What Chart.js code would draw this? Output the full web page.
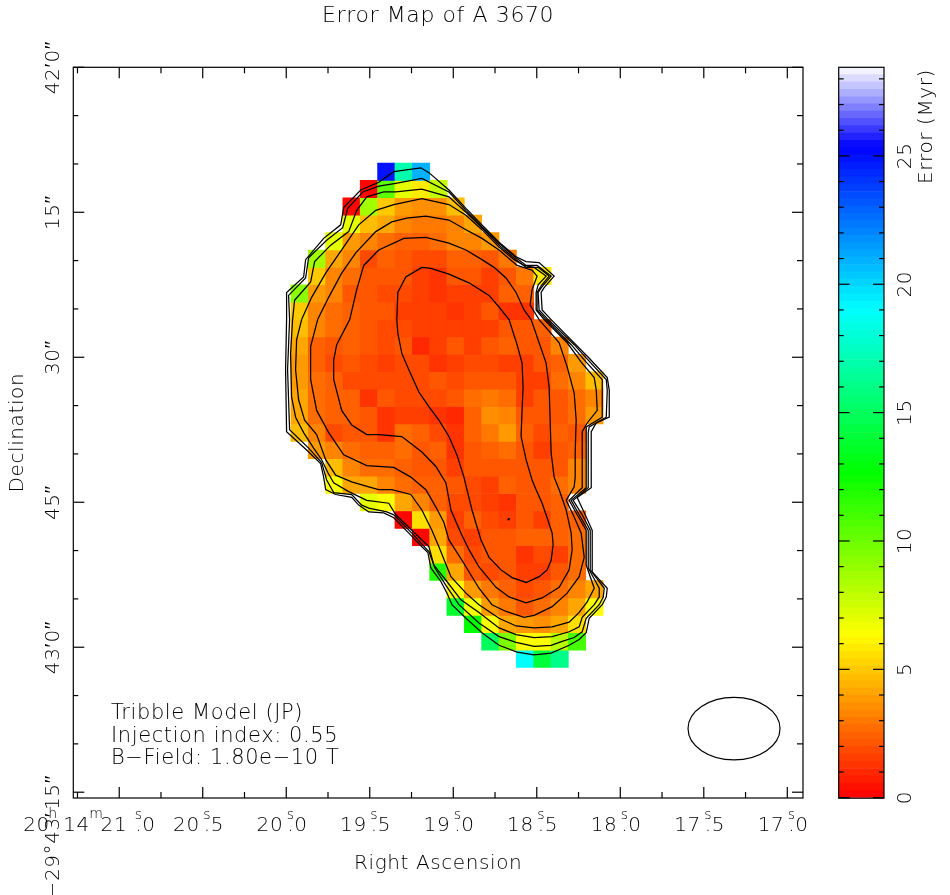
<!DOCTYPE html>
<html lang="en">
<head>
<meta charset="UTF-8">
<title>Error Map of A 3670</title>
<script src="https://cdn.jsdelivr.net/npm/chart.js@4/dist/chart.umd.min.js"></script>
<style>
    html, body { margin: 0; padding: 0; background: #fff; }
    canvas { position: absolute; top: 0; display: block; }
    #map { left: 0; }
    #bar { left: 800px; }
</style>
</head>
<body>
<canvas id="map" width="950" height="895"></canvas>
<canvas id="bar" width="150" height="895"></canvas>
<script>
// map pixel centres
const cellRa = [19.920, 19.816, 19.712, 19.609, 19.505, 19.401, 19.297, 19.193, 19.089, 18.986, 18.882, 18.778, 18.674, 18.570, 18.466, 18.363, 18.259, 18.155];
const cellDec = [10.8, 12.6, 14.4, 16.2, 18.0, 19.8, 21.6, 23.4, 25.2, 27.0, 28.8, 30.6, 32.4, 34.2, 36.0, 37.8, 39.6, 41.4, 43.2, 45.0, 46.8, 48.6, 50.4, 52.2, 54.0, 55.8, 57.6, 59.4, 61.2];

// error in Myr, one row per declination
const _ = null;
const errorRows = [
    [_,_,_,_,_,25,16.8,21,_,_,_,_,_,_,_,_,_,_],
    [_,_,_,_,0.1,10.3,6.9,5.8,7.7,_,_,_,_,_,_,_,_,_],
    [_,_,_,0.1,8.8,5,3.8,3.6,3.6,4.8,_,_,_,_,_,_,_,_],
    [_,_,_,7,4.6,4,3.2,3,3,3.4,4,_,_,_,_,_,_,_],
    [_,_,7,3.8,3.4,2.8,2.5,2.5,2.7,3.2,3.2,3.9,_,_,_,_,_,_],
    [_,8.8,4.2,3.4,1.9,2.3,2,1.9,1.9,2.5,2.5,2.1,3,_,_,_,_,_],
    [_,5,3.4,2.6,2.1,2.1,2,1.6,1.4,2.1,2.1,1.5,2.1,3,5.9,_,_,_],
    [9.2,3.9,3.2,2.1,2,1.9,1.9,1.6,1.2,1.7,1.7,1.6,2.4,2.4,_,_,_,_],
    [5.1,3.4,2.6,2.4,2.1,2,1.7,1.6,1.6,1.3,1.5,2,1.4,1.4,_,_,_,_],
    [4.6,3.2,2.8,2.5,2.1,1.9,1.9,1.6,1.7,1.7,1.6,1.7,2,2,2.5,_,_,_],
    [4.2,2.5,2.1,2.4,2,1.9,2,1.1,1.7,2,1.6,2,2.5,2.1,2.1,3.2,_,_],
    [3.8,2.4,1.8,2,1.9,1.7,1.9,1.9,1.2,1.6,1.8,1.8,1.5,1.5,2.1,2.4,3.8,_],
    [3.8,2.6,2.4,1.8,1.8,1.8,1.8,1.9,2,1.9,2,2,2,1.7,1.5,2.6,3.4,4.8],
    [4,2.6,2.4,2.4,1.3,2.2,1.9,1.9,1.9,2.1,2.8,3,2.6,1.5,2.1,2,2.6,3.4],
    [4.2,2.6,2.5,2.4,2.1,1.2,1.6,1.6,1.2,1.1,2.5,3.5,3.4,2.1,2,2.1,2.6,3.8],
    [4.7,3.2,1.9,2.1,2.1,1.2,2.6,2.4,1.9,1.2,2.4,3,3.8,2.5,1.9,2.4,2.1,_],
    [_,3.8,3.2,2.6,2.4,2.4,2.6,2,2.4,1.4,2.1,2.5,2.8,2.1,1.7,2,2.4,_],
    [_,_,4.6,3.2,2.6,2.6,2.4,2.1,2.1,1.7,2,2.1,2.1,2.1,2,2.1,3.4,_],
    [_,_,6.3,4.2,4.2,3.4,2.6,2.5,2.4,2.1,1.9,1.6,2.4,2.1,2.1,2.8,3.4,_],
    [_,_,_,_,7,6.3,4.2,3.4,2.5,1.9,1.9,1.6,1.2,2.2,2.2,2.5,_,_],
    [_,_,_,_,_,_,0.2,5.6,3.8,1.7,2.4,1.8,1.6,2.1,1.7,2.5,2.5,_],
    [_,_,_,_,_,_,_,0.1,4.2,1.9,1.5,2,2,2.4,2.4,2.4,2.8,_],
    [_,_,_,_,_,_,_,_,5.6,2.6,1.9,2,2.1,1.2,1.8,1.6,2.8,_],
    [_,_,_,_,_,_,_,_,11.9,4.2,2.1,1.9,2,1.5,1.6,2.1,2.8,_],
    [_,_,_,_,_,_,_,_,_,6,3.8,3,2.5,1.8,2.1,2.8,3.4,4.2],
    [_,_,_,_,_,_,_,_,_,13.7,6.7,3.8,3,2.1,2.8,3.4,4.2,6.3],
    [_,_,_,_,_,_,_,_,_,_,12.7,6.3,4.2,3.8,3.6,4.2,5.6,_],
    [_,_,_,_,_,_,_,_,_,_,_,15,9.6,6.4,6.4,8,11,_],
    [_,_,_,_,_,_,_,_,_,_,_,_,_,19,14.2,16,_,_]
];

// contour vertices as [RA seconds, arcsec south of 42']
const contour1 = [[19.998,26.1],[19.998,23.3],[19.896,21.7],[19.884,19.9],[19.776,17.7],[19.674,16.3],[19.656,14.5],[19.554,12.7],[19.446,11.9],[19.356,10.8],[19.194,10.4],[19.146,10.9],[19.026,12.7],[18.924,14.6],[18.828,16.3],[18.726,18.1],[18.624,19.6],[18.564,20.1],[18.486,20.2],[18.396,21.6],[18.456,22.8],[18.474,23.3],[18.468,25.1],[18.414,26.1],[18.306,28.0],[18.186,30.1],[18.078,32.1],[18.066,33.4],[18.066,36.2],[18.144,36.8],[18.174,37.7],[18.174,39.9],[18.174,43.5],[18.258,44.5],[18.21,46.3],[18.168,47.9],[18.168,52.2],[18.078,53.9],[18.084,54.8],[18.108,55.6],[18.186,57.0],[18.204,58.5],[18.246,59.2],[18.306,59.8],[18.414,60.6],[18.516,60.8],[18.618,60.5],[18.726,59.8],[18.828,58.5],[18.924,57.0],[19.008,55.6],[19.038,54.4],[19.074,53.2],[19.134,51.8],[19.152,50.2],[19.188,49.6],[19.266,48.2],[19.356,46.6],[19.416,46.1],[19.506,46.0],[19.566,45.3],[19.608,44.5],[19.704,44.2],[19.764,43.7],[19.776,42.4],[19.794,41.0],[19.878,39.6],[19.998,37.7],[20.004,31.3]];
const contour2 = [[19.98,26.1],[19.986,23.6],[19.884,21.8],[19.866,19.7],[19.758,17.9],[19.662,16.6],[19.632,14.6],[19.542,12.9],[19.446,12.3],[19.344,12.0],[19.188,11.5],[19.026,12.9],[18.924,14.8],[18.828,16.5],[18.726,18.2],[18.624,19.7],[18.564,20.5],[18.498,20.5],[18.414,21.6],[18.468,22.7],[18.492,23.3],[18.486,25.1],[18.432,26.1],[18.276,28.7],[18.192,30.3],[18.084,32.3],[18.078,33.4],[18.084,36.2],[18.186,37.2],[18.192,37.8],[18.192,43.5],[18.282,44.8],[18.228,46.3],[18.18,47.9],[18.18,52.0],[18.096,53.9],[18.102,54.8],[18.126,55.6],[18.204,57.0],[18.228,58.4],[18.276,59.0],[18.348,59.4],[18.414,59.8],[18.516,59.9],[18.624,59.5],[18.726,58.9],[18.846,57.5],[18.966,55.6],[19.044,53.6],[19.11,51.8],[19.146,50.1],[19.248,48.2],[19.356,46.3],[19.398,46.0],[19.506,45.6],[19.548,45.3],[19.608,44.2],[19.716,44.0],[19.758,42.7],[19.788,40.9],[19.866,39.4],[19.98,37.5],[19.992,31.3]];
const contour3 = [[19.962,26.1],[19.95,24.1],[19.854,22.2],[19.83,20.1],[19.734,18.4],[19.626,17.0],[19.578,14.8],[19.518,13.4],[19.416,12.9],[19.344,12.9],[19.188,12.6],[19.026,13.4],[18.924,15.0],[18.828,16.6],[18.726,18.4],[18.624,19.9],[18.564,20.7],[18.492,20.7],[18.426,21.6],[18.474,22.6],[18.498,23.3],[18.498,25.1],[18.444,26.1],[18.294,28.7],[18.204,30.5],[18.108,32.3],[18.108,36.2],[18.204,37.2],[18.204,37.8],[18.204,43.5],[18.294,44.8],[18.246,46.3],[18.192,47.9],[18.192,51.8],[18.126,53.9],[18.126,54.8],[18.156,55.6],[18.228,56.9],[18.246,57.9],[18.306,58.4],[18.408,58.9],[18.516,59.0],[18.624,58.7],[18.726,58.0],[18.846,56.4],[18.954,55.1],[19.038,53.2],[19.116,51.5],[19.146,49.6],[19.248,47.9],[19.344,46.3],[19.386,45.1],[19.518,44.8],[19.626,43.9],[19.716,43.0],[19.752,41.9],[19.788,40.6],[19.836,39.4],[19.896,37.8],[19.944,36.2],[19.968,34.1],[19.974,29.6]];
const contour4 = [[19.908,26.1],[19.848,23.8],[19.764,21.3],[19.668,18.9],[19.566,16.3],[19.464,14.8],[19.356,14.2],[19.188,13.6],[19.026,14.2],[18.924,15.3],[18.828,16.8],[18.726,18.6],[18.636,19.9],[18.576,20.5],[18.516,20.7],[18.444,21.6],[18.492,22.5],[18.504,23.3],[18.504,25.1],[18.456,26.1],[18.318,28.5],[18.234,30.5],[18.156,32.1],[18.144,33.4],[18.138,35.5],[18.198,36.8],[18.228,37.7],[18.228,39.9],[18.228,43.5],[18.306,44.8],[18.258,46.3],[18.204,47.9],[18.204,51.5],[18.156,53.9],[18.198,55.3],[18.246,56.4],[18.306,57.4],[18.408,57.9],[18.516,58.0],[18.624,57.8],[18.726,57.0],[18.846,55.6],[18.924,54.4],[19.014,52.7],[19.086,49.6],[19.128,47.9],[19.188,45.8],[19.254,44.2],[19.368,43.7],[19.446,43.7],[19.506,43.4],[19.608,42.9],[19.704,42.2],[19.764,40.6],[19.818,38.0],[19.89,36.5],[19.926,34.4],[19.944,31.3],[19.938,28.2]];
const contour5 = [[19.812,26.1],[19.746,23.8],[19.668,21.3],[19.584,19.2],[19.464,17.0],[19.368,16.0],[19.278,15.6],[19.164,15.4],[19.026,15.8],[18.924,16.8],[18.828,17.7],[18.726,18.9],[18.618,20.5],[18.528,21.0],[18.498,21.6],[18.528,23.0],[18.54,24.6],[18.486,26.1],[18.366,28.5],[18.318,31.0],[18.276,33.7],[18.264,36.5],[18.27,39.9],[18.27,42.4],[18.276,43.4],[18.324,44.8],[18.282,46.3],[18.234,48.2],[18.216,50.7],[18.246,52.7],[18.318,54.4],[18.408,55.8],[18.516,56.7],[18.576,56.9],[18.684,56.3],[18.768,55.6],[18.846,53.9],[18.948,51.0],[19.026,48.9],[19.056,47.1],[19.104,45.5],[19.164,43.7],[19.254,42.4],[19.356,41.4],[19.518,41.2],[19.656,40.1],[19.746,37.8],[19.818,35.5],[19.854,32.3],[19.854,28.9]];
const contour6 = [[19.62,26.1],[19.578,23.0],[19.536,20.5],[19.446,18.9],[19.296,17.7],[19.164,17.6],[19.026,18.2],[18.924,18.9],[18.828,19.9],[18.756,20.7],[18.684,21.8],[18.624,23.3],[18.576,25.1],[18.534,26.1],[18.486,28.5],[18.444,30.6],[18.426,33.1],[18.42,36.5],[18.414,39.9],[18.396,42.4],[18.366,43.7],[18.324,45.8],[18.294,48.2],[18.288,49.9],[18.306,52.0],[18.366,53.8],[18.468,54.9],[18.564,55.4],[18.666,54.8],[18.744,53.8],[18.846,51.7],[18.906,49.9],[18.954,48.2],[19.014,45.8],[19.044,43.0],[19.104,41.3],[19.188,39.8],[19.308,38.2],[19.446,38.0],[19.518,38.0],[19.608,37.0],[19.668,35.5],[19.716,32.3],[19.716,30.3],[19.698,28.7],[19.638,26.7]];
const contour7 = [[19.188,20.7],[19.134,20.8],[19.026,21.4],[18.906,22.3],[18.786,23.6],[18.726,24.8],[18.666,26.1],[18.618,28.7],[18.588,30.6],[18.582,33.1],[18.588,35.5],[18.594,38.2],[18.564,40.6],[18.528,42.7],[18.504,43.7],[18.468,45.1],[18.438,46.6],[18.408,48.2],[18.402,49.4],[18.414,51.0],[18.438,52.0],[18.486,52.7],[18.564,53.3],[18.648,52.8],[18.714,52.0],[18.786,50.7],[18.834,48.9],[18.888,45.8],[18.936,42.4],[18.978,40.1],[19.026,38.2],[19.086,36.5],[19.146,35.1],[19.206,33.6],[19.266,31.3],[19.308,29.6],[19.332,27.5],[19.338,26.1],[19.332,23.3],[19.284,21.7]];
const contour8 = [[18.672,46.7],[18.666,46.7],[18.666,46.8],[18.672,46.8]];
const contours = [contour1, contour2, contour3, contour4, contour5, contour6, contour7, contour8];

// axes
const raMin = 16.906, raMax = 21.275, decMin = 0, decMax = 75.6;
const xTickValues = [21, 20.5, 20, 19.5, 19, 18.5, 18, 17.5, 17];
const xMinorValues = [21.25, 20.75, 20.25, 19.75, 19.25, 18.75, 18.25, 17.75, 17.25];
const xTickLabels = ['21.0', '20.5', '20.0', '19.5', '19.0', '18.5', '18.0', '17.5', '17.0'];
const yTickValues = [0, 15, 30, 45, 60, 75];
const yMinorValues = [5, 10, 20, 25, 35, 40, 50, 55, 65, 70];
const yTickLabels = ['42\u20320\u2033', '15\u2033', '30\u2033', '45\u2033', '43\u20320\u2033', '15\u2033'];
const barMajorValues = [0, 5, 10, 15, 20, 25];
const barMinorValues = [1, 2, 3, 4, 6, 7, 8, 9, 11, 12, 13, 14, 16, 17, 18, 19, 21, 22, 23, 24, 26, 27, 28];
const barMax = 28.45;

// colour table: red, yellow, green, cyan, blue, white
const colorStops = [0, 6.33, 12.67, 19, 25.33, 28.45];
const colorR = [255, 255, 0, 0, 0, 255];
const colorG = [0, 255, 255, 255, 0, 255];
const colorB = [0, 0, 0, 255, 255, 255];
const colorLevels = 100;

const annotationLines = ['Tribble Model (JP)', 'Injection index: 0.55', 'B\u2212Field: 1.80e\u221210 T'];
const beamRa = 17.319, beamDec = 68.42, beamHalfRa = 0.2754, beamHalfDec = 3.24;

const FONT_FAMILY = '"DejaVu Sans"';
const FONT_WEIGHT = 200;
const SPACING = '0.6px';
const textFont = `${FONT_WEIGHT} 20px ${FONT_FAMILY}`;
const noteFont = `${FONT_WEIGHT} 21px ${FONT_FAMILY}`;
const superFont = `${FONT_WEIGHT} 14px ${FONT_FAMILY}`;
const chartFont = { family: FONT_FAMILY, size: 20, weight: FONT_WEIGHT };

function errorColor(v) {
    const level = Math.min(colorLevels - 1, Math.floor(v / barMax * colorLevels));
    const t = (level + 0.5) / colorLevels * barMax;
    let i = 0;
    while (i < colorStops.length - 2 && t > colorStops[i + 1]) i++;
    const f = (t - colorStops[i]) / (colorStops[i + 1] - colorStops[i]);
    const mix = c => Math.round(c[i] + (c[i + 1] - c[i]) * f);
    return `rgb(${mix(colorR)},${mix(colorG)},${mix(colorB)})`;
}

// each map row is a set of floating bars, one per pixel
const cellDatasets = errorRows.map((row, r) => {
    const cols = cellRa.map((ra, c) => c).filter(c => row[c] !== null);
    return {
        type: 'bar',
        order: 2,
        grouped: false,
        barThickness: 17.4,
        borderWidth: 0,
        data: cols.map(c => ({ x: cellRa[c], y: [cellDec[r] - 0.9, cellDec[r] + 0.9] })),
        backgroundColor: cols.map(c => errorColor(row[c]))
    };
});

const contourDatasets = contours.map(points => ({
    type: 'line',
    order: 1,
    data: points.concat([points[0]]).map(p => ({ x: p[0], y: p[1] })),
    borderColor: '#000',
    borderWidth: 1.25,
    pointRadius: 0,
    tension: 0,
    fill: false
}));

function setTicks(majors, minors) {
    return scale => {
        scale.ticks = majors.concat(minors).map(value => ({ value }));
    };
}

function line(ctx, x1, y1, x2, y2) {
    ctx.beginPath();
    ctx.moveTo(x1, y1);
    ctx.lineTo(x2, y2);
    ctx.stroke();
}

function verticalText(ctx, text, x, y, align) {
    ctx.save();
    ctx.translate(x, y);
    ctx.rotate(-Math.PI / 2);
    ctx.textAlign = align || 'center';
    ctx.textBaseline = 'alphabetic';
    ctx.fillText(text, 0, 0);
    ctx.restore();
}

// seconds label: whole part, then s over the point, then the decimal
function drawSeconds(ctx, label, x, y, shiftWhole, shiftRest) {
    const parts = label.split('.');
    ctx.font = textFont;
    ctx.textAlign = 'right';
    ctx.fillText(parts[0], x - 3 + shiftWhole, y);
    ctx.textAlign = 'left';
    ctx.fillText(parts[1], x + 8 + shiftRest, y);
    ctx.textAlign = 'center';
    ctx.fillText('.', x + 4.5 + shiftRest, y);
    ctx.font = superFont;
    ctx.fillText('s', x + 4.5 + shiftRest, y - 12);
    ctx.font = textFont;
}

const mapFrame = {
    id: 'mapFrame',
    beforeDraw(chart) {
        chart.ctx.letterSpacing = SPACING;
    },
    afterDatasetsDraw(chart) {
        const ctx = chart.ctx;
        const { left, right, top, bottom } = chart.chartArea;
        const xs = chart.scales.x, ys = chart.scales.y;
        ctx.save();
        ctx.strokeStyle = '#000';
        ctx.fillStyle = '#000';
        ctx.lineWidth = 1.2;

        // beam
        ctx.beginPath();
        ctx.ellipse(xs.getPixelForValue(beamRa), ys.getPixelForValue(beamDec),
            Math.abs(xs.getPixelForValue(beamRa + beamHalfRa) - xs.getPixelForValue(beamRa)),
            Math.abs(ys.getPixelForValue(beamDec + beamHalfDec) - ys.getPixelForValue(beamDec)),
            0, 0, Math.PI * 2);
        ctx.stroke();

        ctx.strokeRect(left, top, right - left, bottom - top);
        xTickValues.forEach(v => {
            const p = xs.getPixelForValue(v);
            line(ctx, p, top, p, top + 11);
            line(ctx, p, bottom, p, bottom - 11);
        });
        xMinorValues.forEach(v => {
            const p = xs.getPixelForValue(v);
            line(ctx, p, top, p, top + 6);
            line(ctx, p, bottom, p, bottom - 6);
        });
        yTickValues.forEach(v => {
            const p = ys.getPixelForValue(v);
            line(ctx, left, p, left + 11, p);
            line(ctx, right, p, right - 11, p);
        });
        yMinorValues.forEach(v => {
            const p = ys.getPixelForValue(v);
            line(ctx, left, p, left + 5, p);
            line(ctx, right, p, right - 6, p);
        });

        ctx.font = textFont;
        ctx.textBaseline = 'alphabetic';
        // RA labels, the first one carries the h m prefix
        xTickLabels.forEach((label, i) => {
            const p = xs.getPixelForValue(xTickValues[i]);
            if (i === 0) drawSeconds(ctx, label, p, 830.7, 11, 15);
            else drawSeconds(ctx, label, p, 830.7, 0, 0);
        });
        const first = xs.getPixelForValue(xTickValues[0]);
        ctx.textAlign = 'left';
        ctx.fillText('20', first - 96, 830.7);
        ctx.fillText('14', first - 56, 830.7);
        ctx.font = superFont;
        ctx.fillText('h', first - 71, 818);
        ctx.fillText('m', first - 30, 818);
        ctx.font = textFont;

        // Dec labels, written upwards
        yTickLabels.forEach((label, i) => {
            verticalText(ctx, label, 59, ys.getPixelForValue(yTickValues[i]));
        });
        verticalText(ctx, '\u221229\u00b043\u2032', 59, ys.getPixelForValue(75) + 20, 'right');

        ctx.font = noteFont;
        ctx.textAlign = 'left';
        annotationLines.forEach((t, i) => {
            ctx.fillText(t, 111, 719 + i * 22.5);
        });
        ctx.restore();
    }
};

new Chart(document.getElementById('map').getContext('2d'), {
    type: 'bar',
    data: { datasets: cellDatasets.concat(contourDatasets) },
    plugins: [mapFrame],
    options: {
        responsive: false,
        animation: false,
        devicePixelRatio: 1,
        events: [],
        layout: { padding: { right: 147 } },
        plugins: {
            legend: { display: false },
            tooltip: { enabled: false },
            title: {
                display: true,
                text: 'Error Map of A 3670',
                fullSize: false,
                font: { family: FONT_FAMILY, size: 22, weight: FONT_WEIGHT },
                color: '#000',
                padding: { top: 3, bottom: 37.9 }
            }
        },
        scales: {
            x: {
                type: 'linear',
                reverse: true,
                min: raMin,
                max: raMax,
                offset: false,
                grid: { display: false },
                border: { display: false },
                ticks: { display: false },
                afterBuildTicks: setTicks(xTickValues, xMinorValues),
                afterFit: scale => { scale.height = 97; },
                title: { display: true, text: 'Right Ascension', color: '#000', font: chartFont, padding: { top: 0, bottom: 19 } }
            },
            y: {
                type: 'linear',
                reverse: true,
                min: decMin,
                max: decMax,
                grid: { display: false },
                border: { display: false },
                ticks: { display: false },
                afterBuildTicks: setTicks(yTickValues, yMinorValues),
                afterFit: scale => { scale.width = 73.3; },
                title: { display: true, text: 'Declination', color: '#000', font: chartFont, padding: { top: 6, bottom: 0 } }
            }
        }
    }
});

// colour wedge
const bandDatasets = [];
for (let i = 0; i < colorLevels; i++) {
    const lo = i / colorLevels * barMax, hi = (i + 1) / colorLevels * barMax;
    bandDatasets.push({
        grouped: false,
        barPercentage: 1,
        categoryPercentage: 1,
        borderWidth: 0,
        data: [[lo, hi]],
        backgroundColor: errorColor((lo + hi) / 2)
    });
}

const barFrame = {
    id: 'barFrame',
    beforeDraw(chart) {
        chart.ctx.letterSpacing = SPACING;
    },
    afterDatasetsDraw(chart) {
        const ctx = chart.ctx;
        const { left, right, top, bottom } = chart.chartArea;
        const ys = chart.scales.y;
        ctx.save();
        ctx.strokeStyle = '#000';
        ctx.fillStyle = '#000';
        ctx.lineWidth = 1.2;
        ctx.strokeRect(left, top, right - left, bottom + 0.5 - top);
        barMajorValues.forEach(v => {
            const p = ys.getPixelForValue(v);
            line(ctx, left, p, left + 11, p);
            line(ctx, right, p, right - 11, p);
            ctx.font = textFont;
            verticalText(ctx, String(v), 111, p);
        });
        barMinorValues.forEach(v => {
            const p = ys.getPixelForValue(v);
            line(ctx, left, p, left + 5, p);
            line(ctx, right, p, right - 5, p);
        });
        ctx.font = textFont;
        verticalText(ctx, 'Error (Myr)', 132, 69, 'right');
        ctx.restore();
    }
};

new Chart(document.getElementById('bar').getContext('2d'), {
    type: 'bar',
    data: { labels: [''], datasets: bandDatasets },
    plugins: [barFrame],
    options: {
        responsive: false,
        animation: false,
        devicePixelRatio: 1,
        events: [],
        layout: { padding: { left: 38.7, top: 67.3, bottom: 97.3 } },
        plugins: { legend: { display: false }, tooltip: { enabled: false } },
        scales: {
            x: { display: false },
            y: {
                position: 'right',
                min: 0,
                max: barMax,
                grid: { display: false },
                border: { display: false },
                ticks: { display: false },
                afterBuildTicks: setTicks(barMajorValues, barMinorValues),
                afterFit: scale => { scale.width = 66; }
            }
        }
    }
});
</script>
</body>
</html>
